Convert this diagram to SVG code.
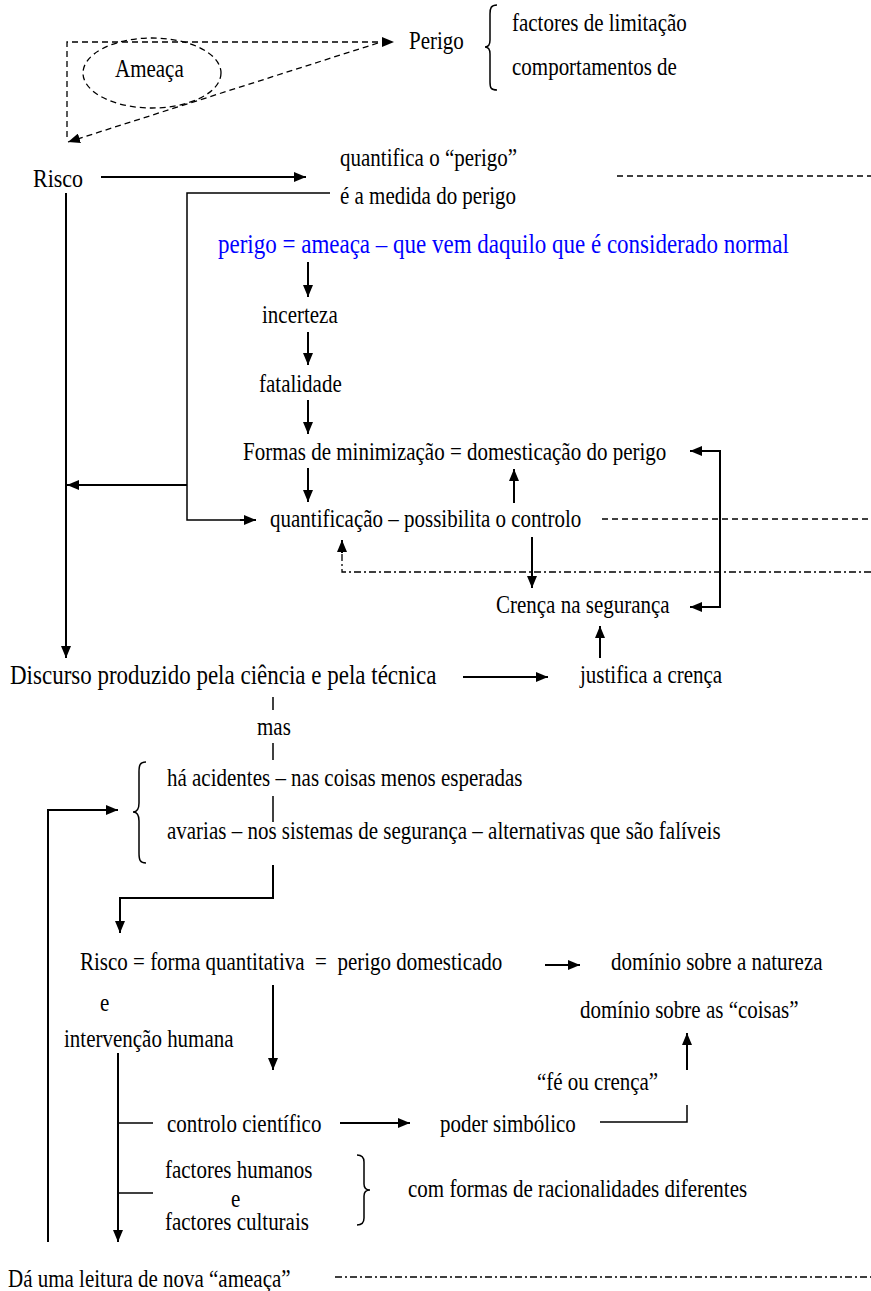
<svg xmlns="http://www.w3.org/2000/svg" width="871" height="1291" viewBox="0 0 871 1291">
<style>
text { font-family: "Liberation Serif", "Times New Roman", serif; font-size: 21px; fill: #000; }
.big { font-size: 23px; }
.blue { fill: #0000ff; }
.ln { fill: none; stroke: #000; stroke-width: 1.5; }
.ar { fill: none; stroke: #000; stroke-width: 2; marker-end: url(#ah); }
.dash { fill: none; stroke: #000; stroke-width: 1.3; stroke-dasharray: 6 4; }
.dd { fill: none; stroke: #000; stroke-width: 1.3; stroke-dasharray: 7 3 2 3; }
</style>
<defs>
<marker id="ah" markerUnits="userSpaceOnUse" markerWidth="12" markerHeight="10" refX="12" refY="5" orient="auto-start-reverse">
<path d="M0,0 L12,5 L0,10 z" fill="#000"/>
</marker>
</defs>
<rect width="871" height="1291" fill="#fff"/>

<g id="connectors">
<path class="dash" d="M67,137 L67,42 L385,42" />
<path class="dash" d="M384,42 L394,42" marker-end="url(#ah)" stroke-dasharray="none"/>
<path class="dash" d="M378,43 L68,142" marker-end="url(#ah)"/>
<path class="ar" d="M101,177 L306,177"/>
<line class="dash" x1="617" y1="176" x2="871" y2="176"/>
<path class="ln" d="M330,193 L187,193 L187,520 L245,520"/>
<path class="ar" d="M240,520 L256,520"/>
<path class="ar" d="M66,193 L66,658"/>
<path class="ar" d="M187,485 L67,485"/>
<path class="ar" d="M308,262 L308,297"/>
<path class="ar" d="M308,332 L308,365"/>
<path class="ar" d="M308,400 L308,434"/>
<path class="ar" d="M308,468 L308,502"/>
<path class="ar" d="M514,503 L514,469"/>
<path class="ar" d="M690,451 L720,451 L720,607 L690,607" marker-start="url(#ah)"/>
<line class="dash" x1="602" y1="519" x2="871" y2="519"/>
<path class="dd" d="M871,572 L342,572 L342,552"/>
<path class="ar" d="M342,553 L342,540"/>
<path class="ar" d="M532,537 L532,588"/>
<path class="ar" d="M600,658 L600,626"/>
<path class="ar" d="M463,677 L548,677"/>
<line class="ln" x1="273" y1="697" x2="273" y2="710"/>
<line class="ln" x1="273" y1="743" x2="273" y2="760"/>
<line class="ln" x1="273" y1="796" x2="273" y2="822"/>
<path class="ln" d="M146,762 C140,762 139,765 139,772 L139,803 C139,809 137,812 133,812 C137,812 139,815 139,821 L139,853 C139,860 140,863 146,863"/>
<path class="ar" d="M273,865 L273,898 L120,898 L120,933"/>
<path class="ar" d="M48,1242 L48,810 L118,810"/>
<path class="ar" d="M545,965 L580,965"/>
<path class="ar" d="M273,985 L273,1070"/>
<path class="ar" d="M118,1053 L118,1242"/>
<line class="ln" x1="118" y1="1123" x2="153" y2="1123"/>
<path class="ar" d="M340,1123 L410,1123"/>
<path class="ln" d="M600,1122 L687,1122 L687,1105"/>
<path class="ar" d="M687,1070 L687,1033"/>
<line class="ln" x1="118" y1="1193" x2="153" y2="1193"/>
<path class="ln" d="M357,1155 C362,1155 364,1157 364,1162 L364,1184 C364,1188 366,1190 370,1190 C366,1190 364,1192 364,1196 L364,1218 C364,1223 362,1225 357,1225"/>
<line class="dd" x1="335" y1="1277" x2="871" y2="1277"/>
</g>

<g id="ameaca">
<ellipse cx="152" cy="73" rx="69" ry="35" class="dash"/>
<text transform="matrix(1,0,0,1.18,115,77)">Ameaça</text>
</g>
<g id="perigo">
<text transform="matrix(1,0,0,1.18,409,49)">Perigo</text>
<path class="ln" d="M497,5 C491,5 490,8 490,14 L490,40 C490,45 488,47 485,47 C488,47 490,49 490,54 L490,82 C490,88 491,90 497,90"/>
<text transform="matrix(1,0,0,1.18,512,31)">factores de limitação</text>
<text transform="matrix(1,0,0,1.18,512,75)">comportamentos de</text>
</g>
<g id="risco"><text transform="matrix(1,0,0,1.18,33,187)" style="font-size:22px">Risco</text></g>
<g id="quantifica"><text transform="matrix(1,0,0,1.18,340,166)">quantifica o “perigo”</text></g>
<g id="medida"><text transform="matrix(1,0,0,1.18,340,204)">é a medida do perigo</text></g>
<g id="perigo-def"><text class="blue big" transform="matrix(1,0,0,1.18,218,253)">perigo = ameaça – que vem daquilo que é considerado normal</text></g>
<g id="incerteza"><text transform="matrix(1,0,0,1.18,262,323)">incerteza</text></g>
<g id="fatalidade"><text transform="matrix(1,0,0,1.18,259,392)">fatalidade</text></g>
<g id="formas"><text transform="matrix(1,0,0,1.18,243,460)">Formas de minimização = domesticação do perigo</text></g>
<g id="quantificacao"><text transform="matrix(1,0,0,1.18,270,527)">quantificação – possibilita o controlo</text></g>
<g id="crenca"><text transform="matrix(1,0,0,1.18,496,613)">Crença na segurança</text></g>
<g id="discurso"><text class="big" transform="matrix(1,0,0,1.18,10,684)">Discurso produzido pela ciência e pela técnica</text></g>
<g id="justifica"><text transform="matrix(1,0,0,1.18,580,683)">justifica a crença</text></g>
<g id="mas"><text transform="matrix(1,0,0,1.18,257,735)">mas</text></g>
<g id="acidentes"><text transform="matrix(1,0,0,1.18,167,786)">há acidentes – nas coisas menos esperadas</text></g>
<g id="avarias"><text transform="matrix(1,0,0,1.18,167,839)">avarias – nos sistemas de segurança – alternativas que são falíveis</text></g>
<g id="risco2"><text transform="matrix(1,0,0,1.18,80,970)" xml:space="preserve">Risco = forma quantitativa  =  perigo domesticado</text></g>
<g id="natureza"><text transform="matrix(1,0,0,1.18,611,970)">domínio sobre a natureza</text></g>
<g id="e1"><text transform="matrix(1,0,0,1.18,100,1011)">e</text></g>
<g id="coisas"><text transform="matrix(1,0,0,1.18,580,1018)">domínio sobre as “coisas”</text></g>
<g id="intervencao"><text transform="matrix(1,0,0,1.18,64,1047)">intervenção humana</text></g>
<g id="fe"><text transform="matrix(1,0,0,1.18,537,1090)">“fé ou crença”</text></g>
<g id="controlo"><text transform="matrix(1,0,0,1.18,167,1132)">controlo científico</text></g>
<g id="poder"><text transform="matrix(1,0,0,1.18,440,1132)">poder simbólico</text></g>
<g id="factores"><text transform="matrix(1,0,0,1.18,165,1178)">factores humanos</text><text transform="matrix(1,0,0,1.18,231,1207)">e</text><text transform="matrix(1,0,0,1.18,165,1230)">factores culturais</text></g>
<g id="racionalidades"><text transform="matrix(1,0,0,1.18,408,1197)">com formas de racionalidades diferentes</text></g>
<g id="leitura"><text transform="matrix(1,0,0,1.18,8,1287)">Dá uma leitura de nova “ameaça”</text></g>
</svg>
